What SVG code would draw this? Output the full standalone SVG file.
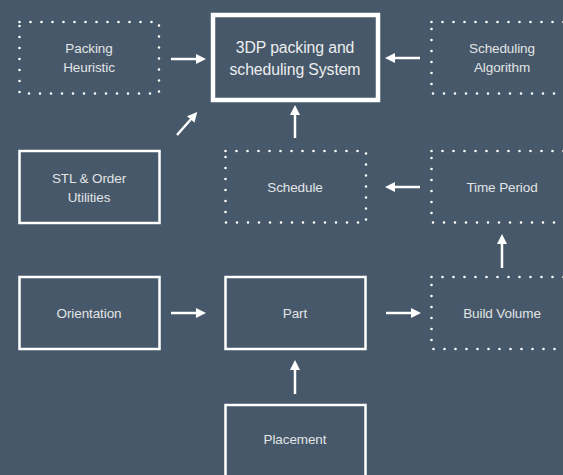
<svg xmlns="http://www.w3.org/2000/svg" width="563" height="475" viewBox="0 0 563 475">
<style>
.bg{fill:#465869}
.solid{fill:none;stroke:#ffffff;stroke-width:2.5}
.thick{fill:none;stroke:#ffffff;stroke-width:4.5}
.dot{fill:none;stroke:#ffffff;stroke-width:2.6;stroke-dasharray:0 11;stroke-linecap:round}
.t{font-family:"Liberation Sans",Arial,sans-serif;font-size:13.5px;fill:#e2e4e6;text-anchor:middle;letter-spacing:-0.1px}
.tb{font-family:"Liberation Sans",Arial,sans-serif;font-size:15.8px;fill:#eceeef;text-anchor:middle;letter-spacing:-0.1px}
.c{stroke:#ffffff;stroke-width:2.5;fill:none;marker-end:url(#ah)}
</style>
<defs>
<marker id="ah" viewBox="0 0 10 10" refX="2" refY="5" markerWidth="4" markerHeight="4" markerUnits="strokeWidth" orient="auto">
<path d="M0,0 L10,5 L0,10 z" fill="#ffffff"/>
</marker>
</defs>
<rect class="bg" x="0" y="0" width="563" height="475"/>
<g id="packing-heuristic">
<rect class="dot" x="19.5" y="22" width="139.5" height="71.5"/>
<text class="t" x="89" y="53">Packing</text>
<text class="t" x="89" y="72">Heuristic</text>
</g>
<g id="system">
<rect class="thick" x="213" y="15" width="165" height="85"/>
<text class="tb" x="295" y="53">3DP packing and</text>
<text class="tb" x="295" y="75">scheduling System</text>
</g>
<g id="scheduling-algorithm">
<rect class="dot" x="431.5" y="22" width="141" height="71.5"/>
<text class="t" x="502" y="53">Scheduling</text>
<text class="t" x="502" y="72">Algorithm</text>
</g>
<g id="stl">
<rect class="solid" x="19.5" y="151" width="140" height="72"/>
<text class="t" x="89" y="183">STL &amp; Order</text>
<text class="t" x="89" y="201.5">Utilities</text>
</g>
<g id="schedule">
<rect class="dot" x="225.5" y="151" width="140.5" height="71.5"/>
<text class="t" x="295" y="192">Schedule</text>
</g>
<g id="time-period">
<rect class="dot" x="431.5" y="151" width="141" height="71.5"/>
<text class="t" x="502" y="192">Time Period</text>
</g>
<g id="orientation">
<rect class="solid" x="19.5" y="277" width="140" height="72"/>
<text class="t" x="89" y="318">Orientation</text>
</g>
<g id="part">
<rect class="solid" x="225.5" y="277" width="140" height="72"/>
<text class="t" x="295" y="318">Part</text>
</g>
<g id="build-volume">
<rect class="dot" x="431.5" y="277" width="141" height="72"/>
<text class="t" x="502" y="318">Build Volume</text>
</g>
<g id="placement">
<rect class="solid" x="225.5" y="405" width="140" height="80"/>
<text class="t" x="295" y="444">Placement</text>
</g>
<g id="connectors">
<line class="c" x1="171" y1="59" x2="198" y2="59"/>
<line class="c" x1="420" y1="58" x2="393" y2="58"/>
<line class="c" x1="177" y1="135" x2="192" y2="118"/>
<line class="c" x1="295" y1="138" x2="295" y2="113"/>
<line class="c" x1="420" y1="187" x2="393" y2="187"/>
<line class="c" x1="502" y1="268" x2="502" y2="242"/>
<line class="c" x1="171" y1="313" x2="198" y2="313"/>
<line class="c" x1="386" y1="313" x2="413" y2="313"/>
<line class="c" x1="295" y1="394" x2="295" y2="368"/>
</g>
</svg>
